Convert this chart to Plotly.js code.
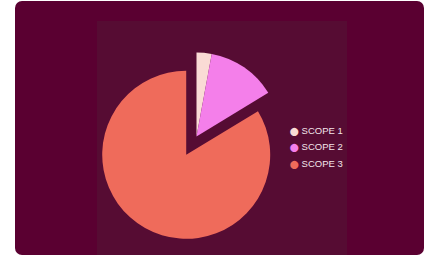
<!DOCTYPE html>
<html>
<head>
<meta charset="utf-8">
<script src="https://cdn.plot.ly/plotly-3.0.1.min.js"></script>
<style>
  html, body { margin:0; padding:0; width:427px; height:256px; overflow:hidden; background:#ffffff; }
  #card { position:absolute; left:15px; top:1px; width:409px; height:254px; background:#5a0031; border-radius:7px; overflow:hidden; }
  #panel { position:absolute; left:82px; top:20px; width:250px; height:240px; background:#560c33; }
  #chart { position:absolute; left:0; top:0; width:427px; height:256px; }
</style>
</head>
<body>
<div id="card"><div id="panel"></div></div>
<div id="chart"></div>
<script>
const labels = ["SCOPE 1", "SCOPE 2", "SCOPE 3"];
const values = [2.9, 13.4, 83.7];
const colors = ["#fadbd5", "#f47fea", "#ef6b5b"];
const pulls = [0, 0, 0.25];

const pie = {
  type: "pie",
  labels: labels,
  values: values,
  sort: false,
  direction: "clockwise",
  rotation: 0,
  pull: pulls,
  marker: { colors: colors, line: { width: 0 } },
  textinfo: "none",
  hoverinfo: "label+percent",
  showlegend: false,
  domain: { x: [91.5/427, 301.5/427], y: [(256-241.5)/256, (256-31.5)/256] }
};

const annotations = labels.map((lab, i) => ({
  xref: "paper", yref: "paper",
  x: 288/427, y: (256 - (130 + i*16.8))/256,
  xanchor: "left", yanchor: "middle",
  showarrow: false,
  text: '<span style="color:' + colors[i] + ';font-family:DejaVu Sans;font-size:8px">⬤</span> ' + lab,
  font: { family: "Liberation Sans, Arial, sans-serif", size: 9.5, color: "#f3e4ea" }
}));

const layout = {
  width: 427, height: 256,
  margin: { l: 0, r: 0, t: 0, b: 0 },
  paper_bgcolor: "rgba(0,0,0,0)",
  plot_bgcolor: "rgba(0,0,0,0)",
  showlegend: false,
  annotations: annotations
};

Plotly.newPlot("chart", [pie], layout, { displayModeBar: false, staticPlot: true });
</script>
</body>
</html>
